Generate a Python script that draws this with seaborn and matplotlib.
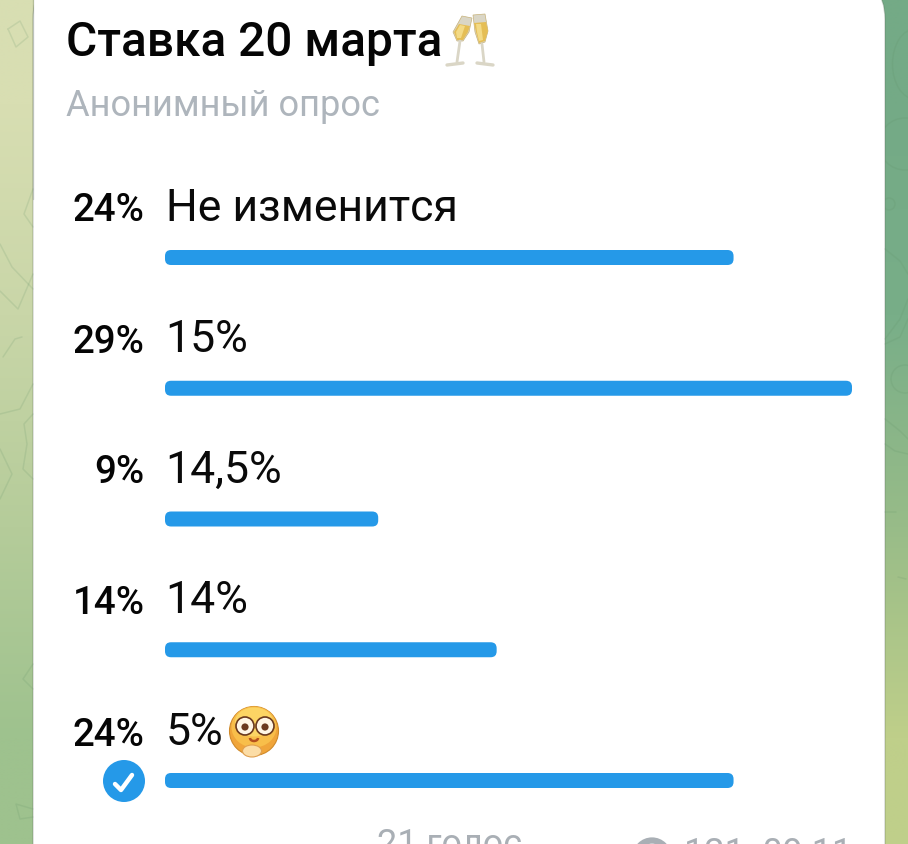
import numpy as np
import pandas as pd
import matplotlib
matplotlib.use("Agg")
import matplotlib.pyplot as plt
import seaborn as sns
from matplotlib.patches import FancyBboxPatch, Circle, Ellipse, Polygon, Rectangle, Arc
from matplotlib.colors import to_rgb
from matplotlib.transforms import IdentityTransform

options = ["Не изменится", "15%", "14,5%", "14%", "5%"]
percents = [24, 29, 9, 14, 24]
percent_labels = ["24%", "29%", "9%", "14%", "24%"]
title = "Ставка 20 марта"
subtitle = "Анонимный опрос"
votes = "21 голос"
meta = "121  09:11"

sns.set_theme(style="white")
plt.rcParams["font.family"] = ["Roboto", "DejaVu Sans"]

W, H = 908, 845
fig = plt.figure(figsize=(W / 100, H / 100), dpi=100, facecolor="white")

# background gradient (wallpaper)
bg = fig.add_axes([0, 0, 1, 1], zorder=0)
left_col = ["#d8deb2", "#c9d6a8", "#b5cc9a", "#9ec28e"]
right_col = ["#74aa86", "#78ae88", "#98bc88", "#bfcf8a"]
grad = np.array([[to_rgb(a), to_rgb(b)] for a, b in zip(left_col, right_col)])
bg.imshow(grad, extent=(0, W, H, 0), interpolation="bilinear", aspect="auto")
bg.set_xlim(0, W); bg.set_ylim(H, 0); bg.axis("off")

# faint wallpaper doodles
doodle = dict(color="#5f8f66", alpha=0.16, lw=1.1, solid_capstyle="round")
for xs, ys in [([0, 12, 33], [245, 268, 290]), ([0, 18, 33], [292, 310, 275]),
               ([3, 15, 22], [358, 340, 338]), ([0, 20, 33], [415, 410, 385]),
               ([0, 12, 0], [450, 475, 500]), ([33, 24, 27, 23, 33], [415, 425, 445, 470, 480]),
               ([33, 23, 33], [665, 680, 690]), ([33, 16, 20, 33], [810, 805, 820, 818]),
               ([33, 24, 33], [190, 215, 228]), ([8, 20, 28, 16, 8], [30, 22, 38, 48, 30]),
               ([885, 900, 908], [250, 262, 275]), ([885, 900, 908], [340, 320, 300]),
               ([885, 900, 908], [345, 338, 320]), ([885, 900, 908], [420, 432, 440]),
               ([885, 896], [513, 513]), ([898, 906], [578, 580]), ([885, 895, 908], [445, 452, 455])]:
    bg.plot(xs, ys, **doodle)
bg.add_patch(Circle((905, 380), 14, fc="none", ec="#5f8f66", alpha=0.16, lw=1.1))
bg.add_patch(Circle((905, 145), 26, fc="none", ec="#5f8f66", alpha=0.16, lw=1.1))
bg.add_patch(Circle((889, 205), 6, fc="none", ec="#5f8f66", alpha=0.16, lw=1.1))
bg.add_patch(Ellipse((915, 65), 45, 70, fc="none", ec="#5f8f66", alpha=0.16, lw=1.1))

# message card
bg.add_patch(FancyBboxPatch((33, -20), 852, H + 100, boxstyle="round,pad=0,rounding_size=40",
                            fc="white", ec="#50605040", lw=1.0))
bg.add_patch(Rectangle((33.5, -20), 100, 200, fc="white", ec="none"))
bg.plot([33, 33], [0, 200], color="#50605040", lw=1.0)

# bars
row_pitch = 130.75
top = 258.5 - row_pitch / 2
bottom = top + 5 * row_pitch
left, right = 165, 852
ax = fig.add_axes([left / W, 1 - bottom / H, (right - left) / W, (bottom - top) / H], zorder=1)
ax.patch.set_alpha(0)
df = pd.DataFrame({"option": options, "percent": percents})
sns.barplot(data=df, x="percent", y="option", color="#2599E8", saturation=1, width=15 / row_pitch, ax=ax)
ax.set_xlim(0, max(percents))
ax.axis("off")
fig.canvas.draw()
for p in list(ax.patches):
    bb = p.get_window_extent()
    rounded = FancyBboxPatch((bb.x0, bb.y0), bb.width, bb.height,
                             boxstyle="round,pad=0,rounding_size=6",
                             fc="#2599E8", ec="none", transform=IdentityTransform(), zorder=3)
    p.set_visible(False)
    ax.add_artist(rounded)

# text overlay in pixel coordinates
ov = fig.add_axes([0, 0, 1, 1], zorder=2)
ov.set_xlim(0, W); ov.set_ylim(H, 0); ov.axis("off"); ov.patch.set_alpha(0)
PT = 0.72
ov.text(66, 56, title, fontsize=47.7 * PT, fontweight=500, color="#050505", va="baseline")
ov.text(66, 116, subtitle, fontsize=36.2 * PT, color="#AEB5BC", va="baseline")
text_base = [221, 352, 483, 613, 745]
pct_base = [221, 353, 483, 614, 746]
for name, pl, b, pb in zip(options, percent_labels, text_base, pct_base):
    ov.text(165.5, b, name, fontsize=44.6 * PT, color="#0A0A0A", va="baseline")
    ov.text(144.5, pb, pl, fontsize=38.5 * PT, fontweight=500, color="#050505", ha="right", va="baseline")

# check badge
ov.add_patch(Circle((124, 782), 21, fc="#2599E8", ec="none"))
ov.plot([115, 121, 132], [785, 791, 776], color="white", lw=3.2, solid_capstyle="round", solid_joinstyle="round")

# footer (cropped by the frame, as in the reference)
ov.text(377, 855, votes, fontsize=36 * PT, color="#A9AFB5", va="baseline", clip_on=True)
ov.text(684, 864, meta, fontsize=36 * PT, color="#A9AFB5", va="baseline", clip_on=True)
ov.add_patch(Ellipse((652, 858), 33, 33, fc="none", ec="#A9AFB5", lw=4.5))

# champagne emoji
gold, gold2, glass = "#E5BE55", "#F3DA86", "#DAD6C6"
ov.add_patch(Polygon([(462, 17), (472, 19), (469, 33), (463, 42), (457, 42), (453, 33)], fc=glass, ec="#C7B27A", lw=0.5))
ov.add_patch(Polygon([(459, 25), (470, 27), (468, 33), (463, 41), (457, 41), (454, 33)], fc=gold, ec="none"))
ov.add_patch(Polygon([(460, 26), (465, 27), (461, 39), (457, 39), (456, 33)], fc=gold2, ec="none"))
ov.add_patch(Polygon([(473, 16), (485, 15), (488, 32), (485, 43), (479, 45), (475, 33)], fc=glass, ec="#C7B27A", lw=0.5))
ov.add_patch(Polygon([(474, 24), (486, 23), (488, 32), (485, 42), (479, 44), (476, 33)], fc=gold, ec="none"))
ov.add_patch(Polygon([(476, 25), (481, 25), (483, 41), (479, 42), (477, 33)], fc=gold2, ec="none"))
ov.plot([460, 457], [42, 63], color=glass, lw=2)
ov.plot([482, 484], [45, 63], color=glass, lw=2)
ov.plot([447, 463], [66, 64], color=glass, lw=2.4, solid_capstyle="round")
ov.plot([477, 493], [64, 66], color=glass, lw=2.4, solid_capstyle="round")

# face emoji
ov.add_patch(Ellipse((254, 732), 49, 49, fc="#F0A53A", ec="#D08A2A", lw=0.8))
ov.add_patch(Ellipse((254, 728), 45, 41, fc="#F8BE4A", ec="none"))
ov.add_patch(Ellipse((254, 723), 38, 29, fc="#FCD564", ec="none"))
for ex in (245, 265):
    ov.add_patch(Circle((ex, 727), 9, fc="#FFF6E5", ec="#6B3A1E", lw=1.2))
    ov.add_patch(Circle((ex, 728), 3.6, fc="#6B3A1E", ec="none"))
ov.add_patch(Arc((254, 739), 8, 6, theta1=0, theta2=180, ec="#B5501E", lw=1.8))
ov.add_patch(Ellipse((252, 752), 19, 12, fc="#FCDDA6", ec="#E0A050", lw=0.8))

fig.savefig("out.png", dpi=100)
